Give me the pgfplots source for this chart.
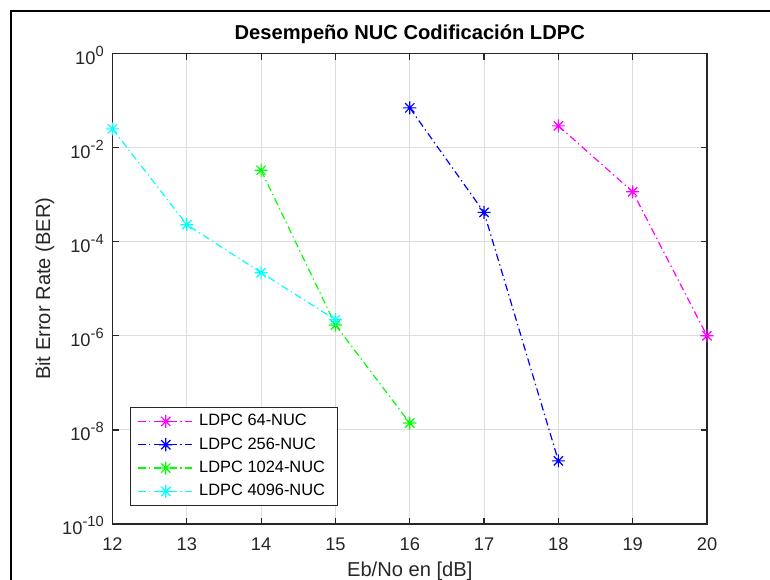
\documentclass[border=0pt]{standalone}
\usepackage{pgfplots}
\pgfplotsset{compat=1.18}
\usepackage{fontspec}
\setmainfont{Liberation Sans}
\definecolor{axgray}{gray}{0.15}
\definecolor{gridgray}{gray}{0.87}
\definecolor{mmag}{rgb}{1,0,1}
\definecolor{mblue}{rgb}{0,0,1}
\definecolor{mgreen}{rgb}{0,1,0}
\definecolor{mcyan}{rgb}{0,1,1}
\pgfdeclareplotmark{mstar}{%
  \pgfpathmoveto{\pgfqpoint{-\pgfplotmarksize}{0pt}}\pgfpathlineto{\pgfqpoint{\pgfplotmarksize}{0pt}}%
  \pgfpathmoveto{\pgfqpoint{0pt}{-\pgfplotmarksize}}\pgfpathlineto{\pgfqpoint{0pt}{\pgfplotmarksize}}%
  \pgfpathmoveto{\pgfqpoint{-.707\pgfplotmarksize}{-.707\pgfplotmarksize}}\pgfpathlineto{\pgfqpoint{.707\pgfplotmarksize}{.707\pgfplotmarksize}}%
  \pgfpathmoveto{\pgfqpoint{-.707\pgfplotmarksize}{.707\pgfplotmarksize}}\pgfpathlineto{\pgfqpoint{.707\pgfplotmarksize}{-.707\pgfplotmarksize}}%
  \pgfusepathqstroke}
\newcommand{\tp}[1]{10\raisebox{6pt}{\fontsize{11}{11}\selectfont #1}}
\pgfplotstableread{
x y
18 2.9e-2
19 1.15e-3
20 1.0e-6
}\tabA
\pgfplotstableread{
x y
16 7.0e-2
17 4.2e-4
18 2.2e-9
}\tabB
\pgfplotstableread{
x y
14 3.3e-3
15 1.7e-6
16 1.4e-8
}\tabC
\pgfplotstableread{
x y
12 2.5e-2
13 2.3e-4
14 2.2e-5
15 2.2e-6
}\tabD
\begin{document}
\begin{tikzpicture}
\useasboundingbox (0,0) rectangle (577.5pt,-434.25pt);
\clip (0,0) rectangle (577.5pt,-434.25pt);
\draw[line width=1.5pt, black] (8.5pt,-440pt) -- (8.5pt,-8.5pt) -- (580pt,-8.5pt);
\begin{axis}[
  at={(84.375pt,-393pt)}, anchor=south west,
  scale only axis, width=445.875pt, height=352.875pt,
  ymode=log, xmin=12, xmax=20, ymin=1e-10, ymax=1,
  xtick={12,13,14,15,16,17,18,19,20},
  xticklabels={12,13,14,15,16,17,18,19,20},
  ytick={1e-10,1e-8,1e-6,1e-4,1e-2,1},
  yticklabels={\tp{-10},\tp{-8},\tp{-6},\tp{-4},\tp{-2},\tp{0}},
  xminorticks=false, yminorticks=false,
  tick align=inside, major tick length=4.5pt,
  tick style={axgray, line width=0.9pt},
  axis line style={axgray, line width=1.1pt},
  grid=major, major grid style={gridgray, line width=0.75pt},
  clip=false,
  ticklabel style={font=\fontsize{13.7}{16}\selectfont, text=axgray, inner sep=0pt},
  xticklabel style={anchor=base, yshift=-19.5pt},
  yticklabel style={anchor=base east, xshift=-6.4pt, yshift=-7.9pt},
  every axis title shift=0pt,
  title={Desempeño NUC Codificación LDPC},
  title style={font=\fontsize{15.1}{18}\selectfont\bfseries, at={(axis description cs:0.5,1.0304)}, anchor=base, inner sep=0pt},
  xlabel={Eb/No en [dB]},
  xlabel style={font=\fontsize{15.1}{18}\selectfont, text=axgray, at={(axis description cs:0.5,-0.1105)}, anchor=base, inner sep=0pt},
  ylabel={Bit Error Rate (BER)},
  ylabel style={font=\fontsize{15.1}{18}\selectfont, text=axgray, at={(axis description cs:-0.1135,0.5)}, anchor=center, inner sep=0pt},
  every axis plot/.append style={line width=0.9pt, mark=mstar, mark size=4.9pt, dash pattern=on 5.5pt off 2.6pt on 1pt off 2.6pt, mark options={solid}},
  legend cell align=left,
  legend image code/.code={\draw[mark repeat=2,mark phase=2,#1] plot coordinates {(0pt,0pt) (20.6pt,0pt) (41.25pt,0pt)};},
  legend style={at={(0.0294,0.2487)}, anchor=north west, draw=axgray, line width=0.6pt, fill=white,
    font=\fontsize{12.3}{14}\selectfont, inner xsep=5.5pt, inner ysep=1.75pt,
    nodes={inner xsep=4pt, inner ysep=2.25pt, text height=9.8pt, text depth=3.2pt}},
]
\addplot[color=mmag] table[x=x,y=y] {\tabA};
\addlegendentry{LDPC 64-NUC}
\addplot[color=mblue] table[x=x,y=y] {\tabB};
\addlegendentry{LDPC 256-NUC}
\addplot[color=mgreen] table[x=x,y=y] {\tabC};
\addlegendentry{LDPC 1024-NUC}
\addplot[color=mcyan] table[x=x,y=y] {\tabD};
\addlegendentry{LDPC 4096-NUC}
\end{axis}
\end{tikzpicture}
\end{document}
